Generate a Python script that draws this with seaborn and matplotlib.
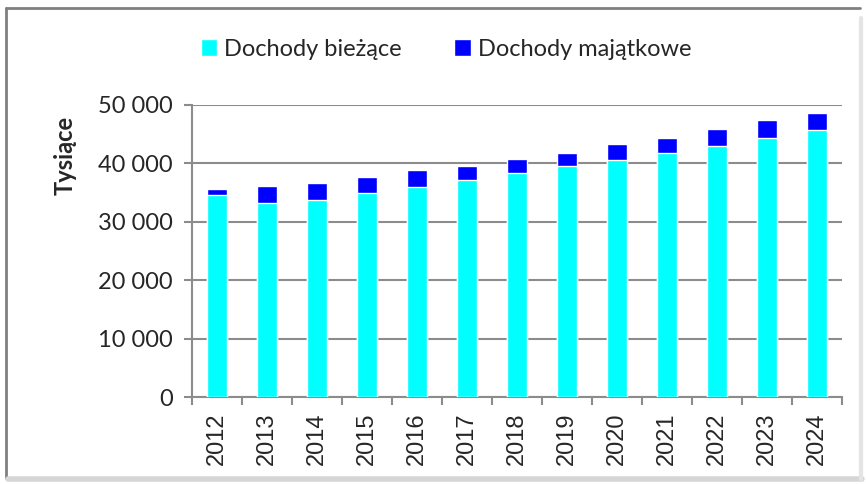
import matplotlib
matplotlib.use("Agg")
import matplotlib.pyplot as plt
import matplotlib.ticker as mticker
from matplotlib.patches import Patch
from matplotlib.lines import Line2D
import pandas as pd
import seaborn as sns

# data (thousands)
years = ["2012", "2013", "2014", "2015", "2016", "2017", "2018",
         "2019", "2020", "2021", "2022", "2023", "2024"]
dochody_biezace = [34530, 33160, 33670, 34870, 36010, 37150, 38290,
                   39490, 40630, 41830, 43030, 44340, 45660]
dochody_majatkowe = [1030, 3010, 2920, 2740, 2800, 2450, 2460,
                     2230, 2740, 2510, 2910, 3030, 3020]

df = pd.DataFrame({"rok": years,
                   "biezace": dochody_biezace,
                   "majatkowe": dochody_majatkowe})
df["razem"] = df["biezace"] + df["majatkowe"]

sns.set_theme(style="white")
plt.rcParams["font.family"] = ["Lato", "DejaVu Sans"]

CYAN = "#00FFFF"
BLUE = "#0000FF"
GRID = "#8c8c8c"

fig = plt.figure(figsize=(8.66, 4.84), dpi=100)
fig.patch.set_facecolor("white")

# outer frame like the Excel chart area
fig.add_artist(Line2D([6 / 866, 6 / 866], [1 - 478 / 484, 1 - 8 / 484],
                      transform=fig.transFigure, color="#808080", lw=2))
fig.add_artist(Line2D([6 / 866, 860 / 866], [1 - 8 / 484, 1 - 8 / 484],
                      transform=fig.transFigure, color="#808080", lw=2))
fig.add_artist(Line2D([8 / 866, 862 / 866], [1 - 479 / 484, 1 - 479 / 484],
                      transform=fig.transFigure, color="#d6d6d6", lw=4))
fig.add_artist(Line2D([861 / 866, 861 / 866], [1 - 479 / 484, 1 - 18 / 484],
                      transform=fig.transFigure, color="#e4e4e4", lw=3))

ax = fig.add_axes([192 / 866, 1 - 397 / 484, 650 / 866, 292 / 484])

# stacked bars: total first (blue), current on top of it (cyan)
sns.barplot(data=df, x="rok", y="razem", color=BLUE, width=0.4,
            saturation=1, ax=ax, zorder=3)
sns.barplot(data=df, x="rok", y="biezace", color=CYAN, width=0.4,
            saturation=1, ax=ax, zorder=3)

ax.set_xlim(-0.5, len(years) - 0.5)
ax.set_ylim(0, 50000)
ax.set_yticks(range(0, 50001, 10000))
ax.yaxis.set_major_formatter(
    mticker.FuncFormatter(lambda v, p: f"{int(v):,}".replace(",", " ")))
ax.grid(axis="y", color=GRID, lw=1.5, zorder=0)
ax.set_axisbelow(True)

for side in ["top", "right"]:
    ax.spines[side].set_visible(False)
for side in ["left", "bottom"]:
    ax.spines[side].set_color(GRID)
    ax.spines[side].set_linewidth(1.5)

ax.set_xlabel("")
ax.set_ylabel("")
ax.tick_params(axis="y", which="major", length=6, width=1.5, color=GRID,
               direction="out", left=True, labelsize=17, pad=8)
ax.set_xticks(range(len(years)))
ax.set_xticklabels(years, fontfamily=["Liberation Sans", "DejaVu Sans"],
                   fontsize=17, rotation=90)
ax.tick_params(axis="x", which="major", length=0, pad=11)
ax.set_xticks([i - 0.5 for i in range(len(years) + 1)], minor=True)
ax.tick_params(axis="x", which="minor", length=6, width=1.5, color=GRID,
               direction="out", bottom=True)

fig.text(65 / 866, 1 - 155 / 484, "Tysiące", rotation=90, fontsize=17,
         fontweight="bold", ha="center", va="center")

handles = [Patch(facecolor=CYAN, label="Dochody bieżące"),
           Patch(facecolor=BLUE, label="Dochody majątkowe")]
fig.legend(handles=handles, loc="center", bbox_to_anchor=(446 / 866, 1 - 49 / 484),
           ncol=2, frameon=False, fontsize=17, handlelength=0.7,
           handleheight=0.7, handletextpad=0.3, columnspacing=2.2)

fig.savefig("out.png", dpi=100)
